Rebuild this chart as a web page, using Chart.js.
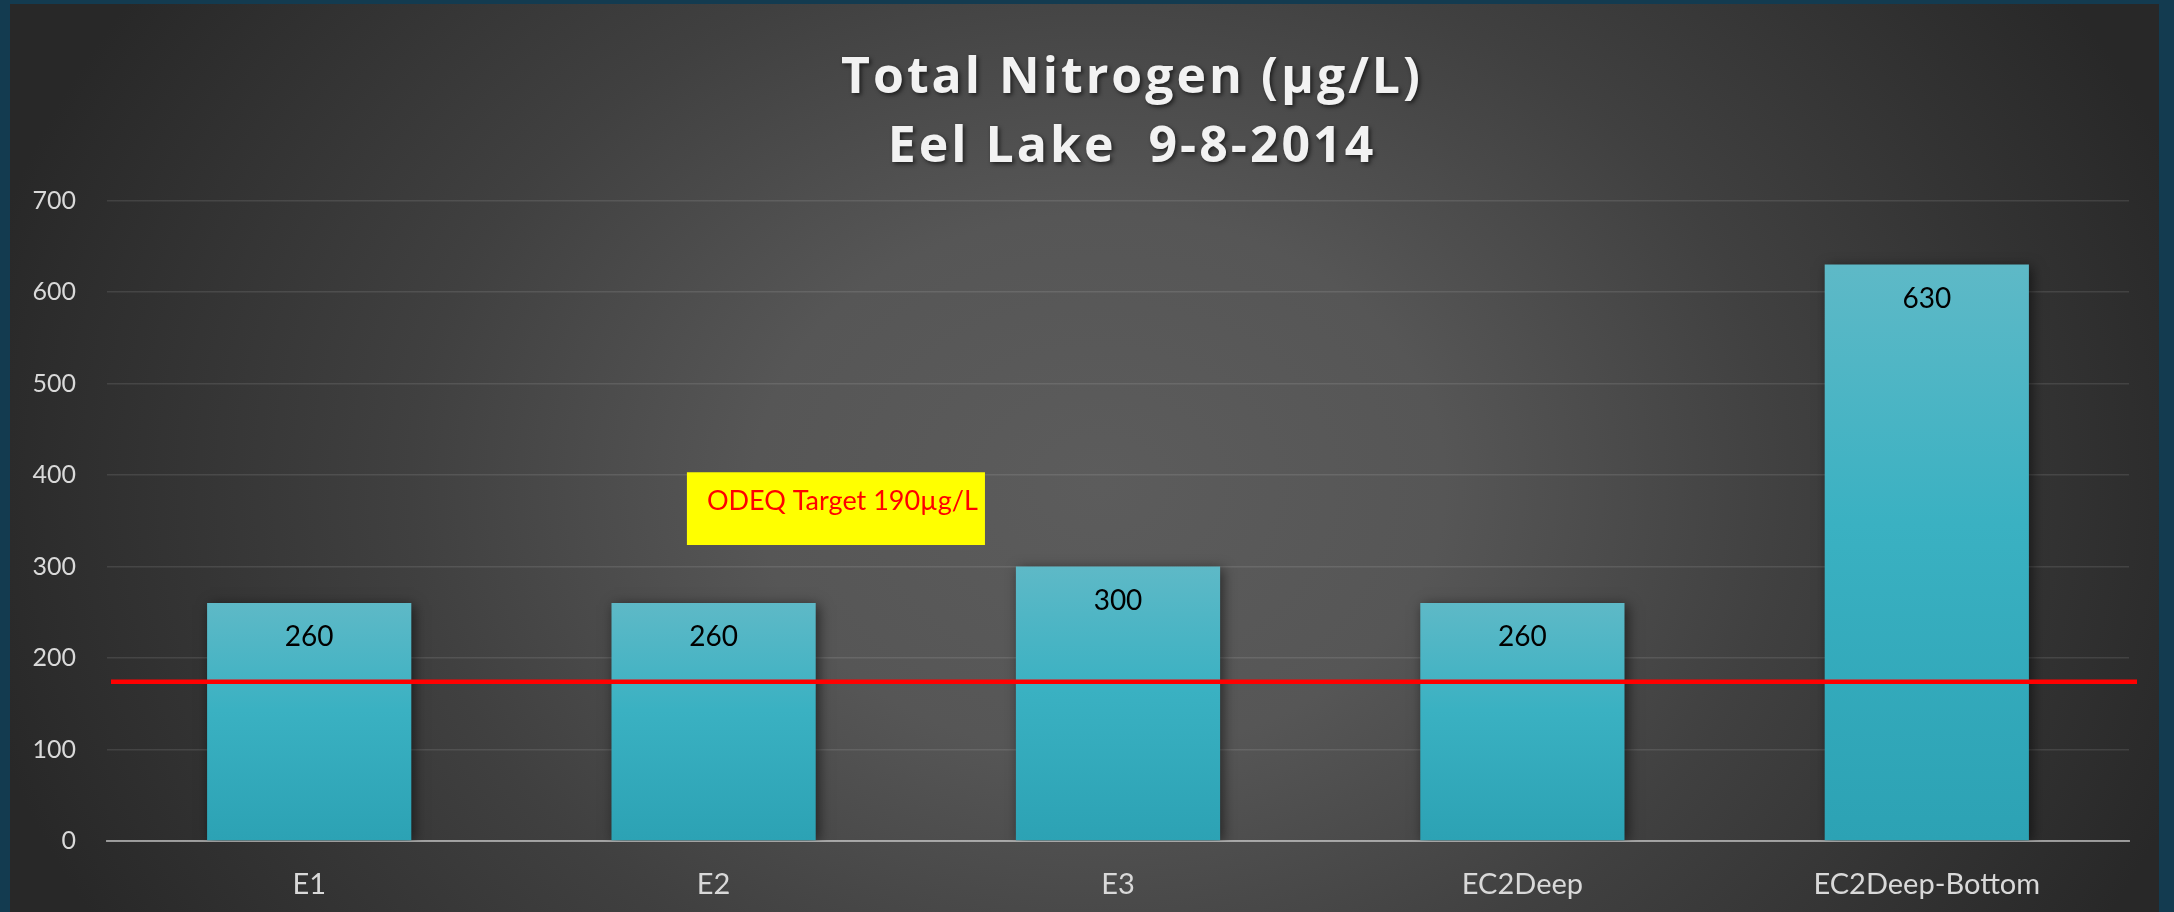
<!DOCTYPE html>
<html>
<head>
<meta charset="utf-8">
<script src="https://cdn.jsdelivr.net/npm/chart.js@4/dist/chart.umd.min.js"></script>
<style>
  html, body { margin: 0; padding: 0; }
  body { width: 2174px; height: 912px; background: #133b50; overflow: hidden; position: relative; }
  #frame {
    position: absolute; left: 10px; top: 4px; width: 2149px; height: 908px;
    background: radial-gradient(ellipse 1150px 900px at 1090px 480px, #5c5c5c 0%, #565656 30%, #404040 60%, #282828 100%);
  }
</style>
</head>
<body>
<div id="frame"><canvas id="chart"></canvas></div>
<script>
// Data
const stations = ['E1', 'E2', 'E3', 'EC2Deep', 'EC2Deep-Bottom'];
const nitrogen = [260, 260, 300, 260, 630];
const yTicks = [0, 100, 200, 300, 400, 500, 600, 700];
const titleLines = ['Total Nitrogen (µg/L)', 'Eel Lake  9-8-2014'];
const targetLine = 174;
const targetNote = 'ODEQ Target 190µg/L';

const font = 'Lato, "Open Sans", sans-serif';

// Each bar gets its own top-to-bottom gradient
function barFill(ctx) {
    const chart = ctx.chart;
    if (!chart.chartArea || ctx.parsed === undefined) return '#3ab1c2';
    const y = chart.scales.y;
    const top = y.getPixelForValue(ctx.parsed.y);
    const bottom = y.getPixelForValue(0);
    const g = chart.ctx.createLinearGradient(0, top, 0, bottom);
    g.addColorStop(0, '#5eb9c7');
    g.addColorStop(0.45, '#3ab1c2');
    g.addColorStop(1, '#2ca2b4');
    return g;
}

// Two-line title with a soft shadow, centred over the plot
const titleText = {
    id: 'titleText',
    afterDraw(chart) {
        const c = chart.ctx;
        const area = chart.chartArea;
        c.save();
        c.fillStyle = '#f2f2f2';
        c.font = 'bold 50px "Open Sans", Lato, sans-serif';
        c.letterSpacing = '3px';
        c.textAlign = 'center';
        c.textBaseline = 'alphabetic';
        c.shadowColor = 'rgba(0,0,0,0.6)';
        c.shadowBlur = 4;
        c.shadowOffsetX = 2;
        c.shadowOffsetY = 2;
        const cx = (area.left + area.right) / 2 + 14;
        c.fillText(titleLines[0], cx, area.top - 107.5);
        c.fillText(titleLines[1], cx, area.top - 38.5);
        c.restore();
    }
};

// Drop shadow behind the bars
const barShadow = {
    id: 'barShadow',
    beforeDatasetsDraw(chart) {
        const c = chart.ctx;
        c.save();
        c.shadowColor = 'rgba(0,0,0,0.55)';
        c.shadowBlur = 12;
        c.shadowOffsetX = 3;
        c.shadowOffsetY = 2;
    },
    afterDatasetsDraw(chart) {
        chart.ctx.restore();
    }
};

// Value labels, target line and the yellow note
const extras = {
    id: 'extras',
    afterDatasetsDraw(chart) {
        const c = chart.ctx;
        const area = chart.chartArea;
        const x = chart.scales.x;
        const y = chart.scales.y;

        c.save();
        c.fillStyle = '#000';
        c.font = '28px ' + font;
        c.textAlign = 'center';
        c.textBaseline = 'middle';
        chart.getDatasetMeta(0).data.forEach((bar, i) => {
            c.fillText(String(nitrogen[i]), bar.x, bar.y + 34);
        });

        const ty = y.getPixelForValue(targetLine);
        c.strokeStyle = '#ff0000';
        c.lineWidth = 4.5;
        c.beginPath();
        c.moveTo(area.left + 4, ty);
        c.lineTo(area.right + 8, ty);
        c.stroke();

        const bx1 = x.getPixelForValue(0.934);
        const bx2 = x.getPixelForValue(1.671);
        const by1 = y.getPixelForValue(403);
        const by2 = y.getPixelForValue(323.5);
        c.fillStyle = '#ffff00';
        c.fillRect(bx1, by1, bx2 - bx1, by2 - by1);
        c.fillStyle = '#ff0000';
        c.font = '27px ' + font;
        c.textAlign = 'left';
        c.textBaseline = 'alphabetic';
        c.fillText(targetNote, bx1 + 20, by1 + 38);
        c.restore();
    }
};

new Chart(document.getElementById('chart'), {
    type: 'bar',
    data: {
        labels: stations,
        datasets: [{
            data: nitrogen,
            backgroundColor: barFill,
            borderWidth: 0,
            categoryPercentage: 1,
            barPercentage: 0.505
        }]
    },
    options: {
        responsive: true,
        maintainAspectRatio: false,
        animation: false,
        layout: { padding: { left: 0, right: 30, top: 196.5, bottom: 0 } },
        plugins: {
            legend: { display: false },
            tooltip: { enabled: false },
            title: { display: false }
        },
        scales: {
            x: {
                z: 1,
                grid: { display: false },
                border: { display: true, color: 'rgba(220,220,220,0.6)', width: 2 },
                ticks: { color: '#d9d9d9', font: { family: font, size: 29 }, padding: 18 },
                afterFit(s) { s.height = 71; }
            },
            y: {
                min: 0,
                max: 700,
                afterBuildTicks(s) { s.ticks = yTicks.map(v => ({ value: v })); },
                grid: { color: 'rgba(255,255,255,0.1)', lineWidth: 1.5, drawTicks: false },
                border: { display: false },
                ticks: { color: '#d9d9d9', font: { family: font, size: 25 }, padding: 31 },
                afterFit(s) { s.width = 97; }
            }
        }
    },
    plugins: [titleText, barShadow, extras]
});
</script>
</body>
</html>
